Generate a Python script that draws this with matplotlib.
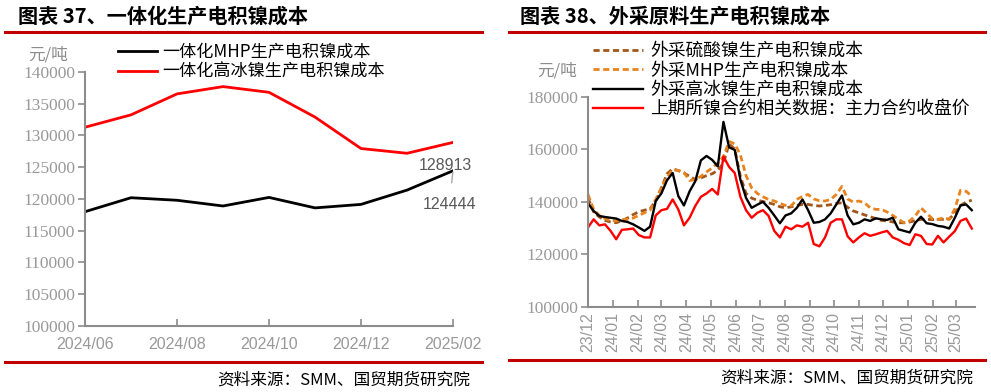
import matplotlib
matplotlib.use('agg')
import matplotlib.pyplot as plt
import matplotlib.dates as mdates
import pandas as pd
from matplotlib.lines import Line2D

plt.rcParams['font.family'] = ['Noto Sans CJK SC', 'DejaVu Sans']

# ---- left chart data (monthly, 2024/06 - 2025/02)
months_left = ['2024/06', '2024/07', '2024/08', '2024/09', '2024/10',
               '2024/11', '2024/12', '2025/01', '2025/02']
mhp_integrated = [118000, 120200, 119800, 118900, 120250, 118600, 119150, 121400, 124444]
hcn_integrated = [131300, 133250, 136550, 137700, 136800, 132900, 127950, 127200, 128913]

# ---- right chart data (weekly from 2023-12-01)
week_start = '2023-12-01'
nickel_sulfate = [141500, 136100, 134200, 132900, 132300, 132000, 132800, 133800, 135100, 136200,
                  136800, 137300, 140300, 145300, 150700, 152600, 151900, 151000, 149700, 148500,
                  149100, 150000, 150700, 152000, 154800, 162100, 160100, 149700, 143200, 141400,
                  140600, 140100, 139600, 139000, 138100, 137700, 138100, 138600, 139000, 139000,
                  138600, 138400, 138600, 138900, 139400, 139600, 137900, 136500, 135800, 135000,
                  134300, 133600, 132900, 132700, 132300, 132000, 132000, 132300, 132800, 133300,
                  133300, 133200, 133300, 133300, 133400, 135600, 138600, 139900, 140600]
mhp_bought = [142800, 137100, 134800, 133600, 132900, 132700, 133300, 133300, 133800, 134800,
              135800, 136800, 140900, 145300, 149500, 152200, 152000, 151200, 148100, 148500,
              149700, 151400, 152900, 154800, 157300, 163000, 162100, 157900, 150000, 145300,
              143200, 141900, 140900, 140300, 139400, 138600, 138400, 140900, 142100, 142800,
              141100, 140400, 140300, 140900, 142800, 145900, 141100, 139900, 140300, 139600,
              137700, 137100, 137100, 136100, 134800, 133300, 132000, 132700, 134600, 137700,
              135600, 133600, 133300, 133900, 133300, 137300, 144400, 144000, 142100]
hcn_bought = [139400, 136500, 134600, 134200, 133900, 133600, 132700, 132300, 131400, 130200,
              128900, 130500, 140300, 143200, 148200, 151000, 142200, 138600, 144000, 147800,
              155800, 157500, 156000, 153500, 170500, 160800, 159800, 148500, 141500, 137700,
              138900, 140000, 137700, 134800, 131800, 134800, 135600, 137700, 140900, 136800,
              132000, 132300, 133300, 135600, 139000, 142400, 134800, 131400, 132000, 133300,
              132700, 133700, 133300, 133100, 133900, 129500, 128900, 128300, 132000, 134300,
              131800, 131500, 130800, 130500, 129800, 133900, 138600, 139000, 136800]
shfe_close = [130200, 133300, 131000, 131400, 128900, 125700, 129300, 129500, 129800, 127300,
              126400, 126400, 134800, 136800, 137300, 140900, 137100, 131000, 133900, 138400,
              141900, 143200, 144900, 142800, 157300, 153300, 151000, 141900, 136800, 133900,
              135800, 136800, 134600, 128900, 126400, 130500, 129500, 131000, 130500, 132000,
              123900, 123000, 126400, 132000, 133300, 133300, 126800, 124500, 126400, 128000,
              127000, 127600, 128300, 128900, 126400, 125500, 124200, 123500, 127600, 127000,
              123900, 123700, 127000, 124500, 126700, 128800, 132700, 133600, 129800]

GRAY = '#8C8C8C'
RED_RULE = '#C00000'

fig = plt.figure(figsize=(9.91, 3.92), dpi=100)

# titles, rules, sources
fig.text(18 / 991, 1 - 16 / 392, '图表 37、一体化生产电积镍成本', fontsize=14.5,
         fontweight='bold', va='center', ha='left')
fig.text(520 / 991, 1 - 16 / 392, '图表 38、外采原料生产电积镍成本', fontsize=14.5,
         fontweight='bold', va='center', ha='left')
for x0, x1, y in [(5, 482, 32), (509, 985, 32), (5, 482, 362), (509, 985, 360)]:
    fig.add_artist(Line2D([x0 / 991, x1 / 991], [1 - y / 392, 1 - y / 392],
                          color=RED_RULE, lw=2.2))
fig.text(470 / 991, 1 - 380 / 392, '资料来源：SMM、国贸期货研究院', fontsize=12,
         ha='right', va='center', family=['Noto Sans CJK SC', 'Liberation Serif'])
fig.text(973 / 991, 1 - 378 / 392, '资料来源：SMM、国贸期货研究院', fontsize=12,
         ha='right', va='center', family=['Noto Sans CJK SC', 'Liberation Serif'])

# ---------------- left chart
ax1 = fig.add_axes([85 / 991, 1 - 326 / 392, (453 - 85) / 991, (326 - 72) / 392])
xs = list(range(len(months_left)))
ax1.plot(xs, mhp_integrated, color='black', lw=2, label='一体化MHP生产电积镍成本')
ax1.plot(xs, hcn_integrated, color='#FF0000', lw=2, label='一体化高冰镍生产电积镍成本')
ax1.set_xlim(0, 8)
ax1.set_ylim(100000, 140000)
ax1.set_yticks(range(100000, 140001, 5000))
ax1.set_xticks(xs[::2])
ax1.set_xticklabels(months_left[::2])
for s in ['top', 'right']:
    ax1.spines[s].set_visible(False)
for s in ['left', 'bottom']:
    ax1.spines[s].set_color(GRAY)
    ax1.spines[s].set_linewidth(1.5)
ax1.tick_params(axis='y', direction='out', length=5, width=1.2, color=GRAY,
                labelcolor='#999999', labelsize=12.5, pad=2)
ax1.tick_params(axis='x', direction='in', length=5, width=1.2, color=GRAY,
                labelcolor='#999999', labelsize=11.5, pad=8)
for t in ax1.get_yticklabels():
    t.set_family('Liberation Serif')
for t in ax1.get_xticklabels():
    t.set_family('Liberation Sans')
ax1.text(7.83, 125300, f'{hcn_integrated[-1]}', ha='center', va='center',
         fontsize=11.5, color='#595959', family='Liberation Sans')
ax1.annotate(f'{mhp_integrated[-1]}', xy=(8, mhp_integrated[-1]), xytext=(7.92, 119200),
             ha='center', va='center', fontsize=11.5, color='#595959', family='Liberation Sans',
             arrowprops=dict(arrowstyle='-', color='#A6A6A6', lw=1, shrinkA=8, shrinkB=1))
fig.text(28 / 991, 1 - 55 / 392, '元/吨', fontsize=12, color='#8C8C8C', va='center')
ax1.legend(loc='upper left', bbox_to_anchor=(118 / 991, 1 - 43 / 392),
           bbox_transform=fig.transFigure, frameon=False, fontsize=12.3,
           handlelength=2.3, handletextpad=0.3, labelspacing=0.12, borderpad=0,
           borderaxespad=0)

# ---------------- right chart
ax2 = fig.add_axes([588 / 991, 1 - 306.6 / 392, (975 - 588) / 991, (306.6 - 97) / 392])
dates = pd.date_range(week_start, periods=len(hcn_bought), freq='7D')
ax2.plot(dates, nickel_sulfate, color='#A0561C', lw=2, ls=(0, (2.2, 1.3)),
         label='外采硫酸镍生产电积镍成本')
ax2.plot(dates, mhp_bought, color='#E8841F', lw=2, ls=(0, (2.2, 1.3)),
         label='外采MHP生产电积镍成本')
ax2.plot(dates, hcn_bought, color='black', lw=1.7, label='外采高冰镍生产电积镍成本')
ax2.plot(dates, shfe_close, color='#FF0000', lw=1.7, label='上期所镍合约相关数据：主力合约收盘价')
ax2.set_xlim(pd.Timestamp('2023-12-01'), pd.Timestamp('2025-03-25'))
ax2.set_ylim(100000, 180000)
ax2.set_yticks(range(100000, 180001, 20000))
ax2.xaxis.set_major_locator(mdates.MonthLocator())
ax2.xaxis.set_major_formatter(mdates.DateFormatter('%y/%m'))
for s in ['top', 'right']:
    ax2.spines[s].set_visible(False)
for s in ['left', 'bottom']:
    ax2.spines[s].set_color(GRAY)
    ax2.spines[s].set_linewidth(1.5)
ax2.tick_params(axis='y', direction='out', length=5, width=1.2, color=GRAY,
                labelcolor='#999999', labelsize=12.5, pad=2)
ax2.tick_params(axis='x', direction='in', length=5, width=1.2, color=GRAY,
                labelcolor='#999999', labelsize=11.5, pad=4, labelrotation=90)
for t in ax2.get_yticklabels():
    t.set_family('Liberation Serif')
for t in ax2.get_xticklabels():
    t.set_family('Liberation Sans')
fig.text(537 / 991, 1 - 71 / 392, '元/吨', fontsize=12, color='#8C8C8C', va='center')
ax2.legend(loc='upper left', bbox_to_anchor=(593 / 991, 1 - 42 / 392),
           bbox_transform=fig.transFigure, frameon=False, fontsize=12.8,
           handlelength=2.8, handletextpad=0.4, labelspacing=0.08, borderpad=0,
           borderaxespad=0)

fig.savefig('out.png', dpi=100)
